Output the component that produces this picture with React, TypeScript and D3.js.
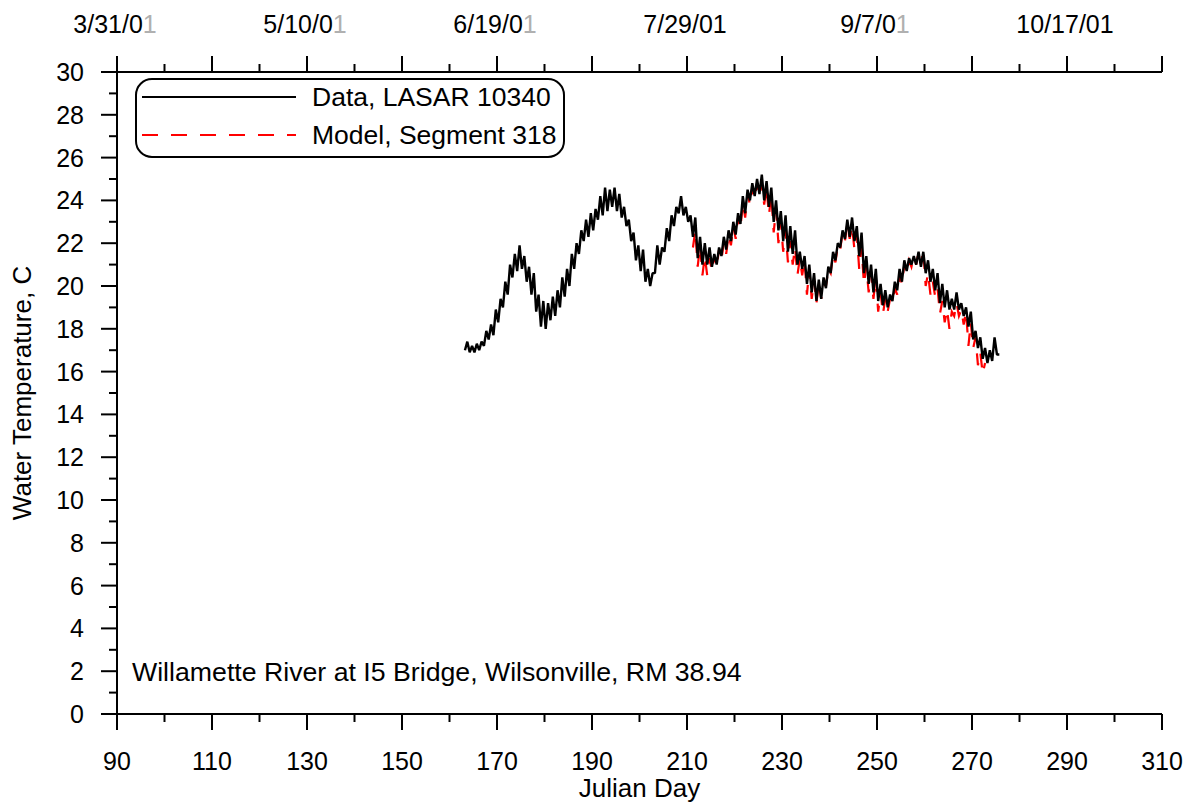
import React from 'react';
import * as d3 from 'd3';

const W = 1194;
const H = 807;
const PL = 117, PR = 1162, PT = 72, PB = 714;

const xTickValues = [90, 110, 130, 150, 170, 190, 210, 230, 250, 270, 290, 310];
const yTickValues = [0, 2, 4, 6, 8, 10, 12, 14, 16, 18, 20, 22, 24, 26, 28, 30];
const dateTickDays = [90, 130, 170, 210, 250, 290];
const dateTickLabels = ['3/31/01', '5/10/01', '6/19/01', '7/29/01', '9/7/01', '10/17/01'];
const dateLabelFaded = [true, true, true, false, true, false];

// Data, LASAR 10340 — daily low / high, starting at day 163
const dataStartDay = 163;
const dataLow = [
  17.0, 16.9, 16.9, 17.0, 17.2, 17.5, 17.7, 18.3, 19.0, 19.6,
  20.4, 20.7, 20.8, 20.2, 19.6, 18.8, 18.1, 18.0, 18.4, 18.6,
  19.0, 19.5, 20.0, 20.8, 21.5, 22.1, 22.3, 22.6, 23.1, 23.3,
  23.5, 23.7, 23.5, 23.2, 22.8, 22.1, 21.2, 20.7, 20.2, 20.0,
  20.6, 21.0, 21.6, 22.1, 22.8, 23.4, 23.3, 23.0, 22.3, 21.3,
  21.0, 21.0, 20.9, 21.0, 21.4, 21.7, 22.1, 22.4, 22.9, 23.4,
  24.0, 24.2, 24.3, 24.0, 23.7, 23.0, 22.6, 22.1, 21.6, 21.5,
  21.0, 20.8, 20.1, 19.7, 19.3, 19.4, 19.9, 20.6, 21.2, 21.8,
  22.2, 22.3, 22.1, 21.4, 20.6, 20.1, 19.7, 19.3, 19.1, 19.0,
  19.3, 19.8, 20.2, 20.7, 21.0, 21.0, 20.9, 20.6, 20.2, 19.8,
  19.2, 19.0, 18.9, 18.9, 18.9, 18.6, 18.1, 17.5, 17.1, 16.6,
  16.4, 16.5, 16.8,
];
const dataHigh = [
  17.4, 17.2, 17.3, 17.4, 17.9, 18.2, 18.9, 19.4, 20.2, 21.0,
  21.5, 21.9, 21.4, 20.9, 20.6, 19.6, 19.3, 19.2, 19.5, 19.8,
  20.4, 20.8, 21.5, 22.0, 22.6, 23.1, 23.4, 23.6, 24.2, 24.6,
  24.5, 24.6, 24.3, 23.7, 23.1, 22.5, 21.9, 21.7, 20.8, 20.6,
  21.9, 21.8, 22.7, 23.3, 23.7, 24.2, 23.7, 23.3, 23.2, 22.3,
  22.0, 21.8, 21.5, 21.8, 22.3, 22.6, 23.0, 23.4, 24.2, 24.5,
  24.8, 25.0, 25.2, 24.9, 24.6, 24.0, 23.5, 23.3, 22.8, 22.6,
  21.6, 21.4, 21.0, 20.6, 20.3, 20.4, 20.9, 21.6, 22.0, 22.6,
  23.1, 23.2, 22.8, 22.5, 21.4, 21.0, 20.8, 20.1, 19.8, 19.6,
  20.2, 20.8, 21.2, 21.3, 21.4, 21.6, 21.6, 21.2, 20.8, 20.6,
  20.1, 19.8, 19.4, 19.7, 19.2, 19.0, 18.8, 17.9, 17.6, 17.1,
  17.0, 17.6, 16.8,
];

// Model, Segment 318 — daily low / high, starting at day 211
const modelStartDay = 211;
const modelLow = [
  21.8, 20.9, 20.5, 20.5, 20.7, 20.9, 21.2, 21.5, 21.9, 22.2,
  22.7, 23.2, 23.8, 24.1, 24.2, 23.8, 23.3, 22.5, 22.0, 21.6,
  21.1, 21.0, 20.5, 20.5, 19.6, 19.4, 19.2, 19.4, 20.0, 20.6,
  21.1, 21.7, 22.1, 22.2, 21.7, 20.8, 20.1, 19.7, 19.4, 18.8,
  18.7, 18.8, 19.2, 19.6, 20.1, 20.6, 20.9, 21.0, 21.0, 20.0,
  19.6, 19.5, 18.7, 18.3, 18.0, 18.6, 18.6, 18.2, 17.2, 17.1,
  16.3, 15.9,
];
const modelHigh = [
  22.6, 21.9, 21.4, 21.3, 21.4, 21.7, 22.1, 22.4, 22.8, 23.2,
  23.9, 24.3, 24.6, 24.8, 24.8, 24.6, 24.3, 23.6, 23.0, 22.6,
  22.1, 21.8, 21.3, 21.2, 20.8, 20.3, 20.2, 20.1, 20.8, 21.5,
  21.9, 22.5, 22.9, 22.8, 22.4, 21.8, 20.9, 20.6, 20.4, 19.7,
  19.4, 19.4, 19.9, 20.5, 21.0, 21.2, 21.4, 21.6, 21.7, 20.6,
  20.2, 19.9, 19.3, 18.9, 18.8, 19.2, 18.9, 18.8, 18.3, 17.6,
  16.9, 16.4,
];

function toPoints(start: number, lows: number[], highs: number[]): [number, number][] {
  const pts: [number, number][] = [];
  lows.forEach((lo, i) => {
    pts.push([start + i + 0.25, lo]);
    pts.push([start + i + 0.75, highs[i]]);
  });
  return pts;
}

const FONT = '"Liberation Sans", Arial, sans-serif';

export default function App() {
  const x = d3.scaleLinear().domain([90, 310]).range([PL, PR]);
  const y = d3.scaleLinear().domain([0, 30]).range([PB, PT]);
  const line = d3.line<[number, number]>().x(d => x(d[0])).y(d => y(d[1]));
  const dataPath = line(toPoints(dataStartDay, dataLow, dataHigh)) || '';
  const modelPath = line(toPoints(modelStartDay, modelLow, modelHigh)) || '';
  const xMinor = d3.range(90, 311, 10);
  const yMinor = d3.range(0, 31, 1);

  return (
    <svg width={W} height={H} style={{ position: 'absolute', left: 0, top: 0, background: '#fff' }}
      fontFamily={FONT}>
      <rect x={0} y={0} width={W} height={H} fill="#fff" />
      {/* series */}
      <path d={modelPath} fill="none" stroke="#ff0000" strokeWidth={2.2} strokeDasharray="14,12" />
      <path d={dataPath} fill="none" stroke="#000" strokeWidth={2.4} strokeLinejoin="bevel" />

      {/* left axis */}
      <line x1={PL} x2={PL} y1={PT} y2={PB} stroke="#000" strokeWidth={2} />
      {yMinor.map(v => (
        <line key={'ym' + v} x1={PL - (v % 2 === 0 ? 16 : 8)} x2={PL} y1={y(v)} y2={y(v)} stroke="#000" strokeWidth={2} />
      ))}
      {yTickValues.map(v => (
        <text key={'yl' + v} x={84} y={y(v) + 9} textAnchor="end" fontSize={25} fill="#000">{v}</text>
      ))}
      <text transform={`translate(31,${(PT + PB) / 2}) rotate(-90)`} textAnchor="middle" fontSize={26} fill="#000">
        Water Temperature, C
      </text>

      {/* bottom axis */}
      <line x1={PL} x2={PR} y1={PB} y2={PB} stroke="#000" strokeWidth={2} />
      {xMinor.map(v => (
        <line key={'xm' + v} x1={x(v)} x2={x(v)} y1={PB} y2={PB + ((v - 90) % 20 === 0 ? 16 : 8)} stroke="#000" strokeWidth={2} />
      ))}
      {xTickValues.map(v => (
        <text key={'xl' + v} x={x(v)} y={770} textAnchor="middle" fontSize={25} fill="#000">{v}</text>
      ))}
      <text x={(PL + PR) / 2} y={797} textAnchor="middle" fontSize={26} fill="#000">Julian Day</text>

      {/* top axis */}
      <line x1={PL} x2={PR} y1={PT} y2={PT} stroke="#000" strokeWidth={2} />
      {xMinor.map(v => (
        <line key={'tm' + v} x1={x(v)} x2={x(v)} y1={PT} y2={PT - ((v - 90) % 20 === 0 ? 16 : 8)} stroke="#000" strokeWidth={2} />
      ))}
      {dateTickDays.map((d, i) => {
        const lab = dateTickLabels[i];
        return (
          <text key={'tl' + d} x={x(d) - 2} y={33} textAnchor="middle" fontSize={25} fill="#000">
            {dateLabelFaded[i] ? (
              <>
                {lab.slice(0, -1)}
                <tspan fill="#b0b0b0">{lab.slice(-1)}</tspan>
              </>
            ) : lab}
          </text>
        );
      })}

      {/* legend */}
      <rect x={136} y={79} width={428} height={78} rx={16} ry={16} fill="#fff" stroke="#000" strokeWidth={2} />
      <line x1={142} x2={296} y1={97} y2={97} stroke="#000" strokeWidth={2} />
      <text x={312} y={106} fontSize={26.5} fill="#000">Data, LASAR 10340</text>
      <line x1={142} x2={296} y1={135} y2={135} stroke="#ff0000" strokeWidth={2} strokeDasharray="16,13" />
      <text x={312} y={144} fontSize={26.5} fill="#000">Model, Segment 318</text>

      {/* annotation */}
      <text x={132} y={681} fontSize={26.7} fill="#000">Willamette River at I5 Bridge, Wilsonville, RM 38.94</text>
    </svg>
  );
}
